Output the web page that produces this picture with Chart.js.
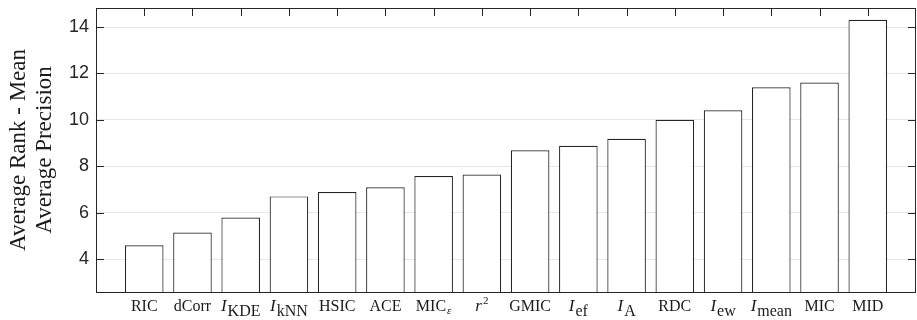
<!DOCTYPE html>
<html>
<head>
<meta charset="utf-8">
<script src="https://cdn.jsdelivr.net/npm/chart.js@4/dist/chart.umd.min.js"></script>
<style>
  html, body { margin: 0; padding: 0; background: #fff; }
  #wrap { width: 917px; height: 320px; }
</style>
</head>
<body>
<div id="wrap"><canvas id="rankChart"></canvas></div>
<script>
// methods, in plotted order ("_" = subscript, "^" = superscript)
const methods = ['RIC', 'dCorr', 'I_KDE', 'I_kNN', 'HSIC', 'ACE', 'MIC_ε', 'r^2',
                 'GMIC', 'I_ef', 'I_A', 'RDC', 'I_ew', 'I_mean', 'MIC', 'MID'];
const avgRank = [4.59, 5.14, 5.79, 6.70, 6.89, 7.09, 7.58, 7.64,
                 8.69, 8.88, 9.18, 10.00, 10.41, 11.40, 11.61, 14.31];
const yTicks = [4, 6, 8, 10, 12, 14];
const yTitle = ['Average Rank - Mean', 'Average Precision'];

const serif = '"Liberation Serif", serif';
const ink = '#262626';

function drawLabel(ctx, text, cx, baseY) {
    let base = text, sub = '', sup = '';
    if (text.includes('_')) [base, sub] = text.split('_');
    else if (text.includes('^')) [base, sup] = text.split('^');
    const baseFont = (base.length === 1 ? 'italic 17px ' : '16px ') + serif;
    const subFont = (sub === 'ε' ? 'italic 11px ' : '16px ') + serif;
    const supFont = '11px ' + serif;

    ctx.font = baseFont;
    const wb = ctx.measureText(base).width;
    let wx = 0;
    if (sub) { ctx.font = subFont; wx = ctx.measureText(sub).width + 1; }
    if (sup) { ctx.font = supFont; wx = ctx.measureText(sup).width + 1; }

    let sx = cx - (wb + wx) / 2;
    ctx.font = baseFont;
    ctx.fillText(base, sx, baseY);
    if (sub) {
        ctx.font = subFont;
        ctx.fillText(sub, sx + wb + 1, baseY + (sub === 'ε' ? 3 : 5));
    }
    if (sup) {
        ctx.font = supFont;
        ctx.fillText(sup, sx + wb + 1, baseY - 7);
    }
}

// box, inward ticks and the x labels
const frameAndLabels = {
    id: 'frameAndLabels',
    afterDraw(chart) {
        const ctx = chart.ctx;
        const area = chart.chartArea;
        const x = chart.scales.x, y = chart.scales.y;
        ctx.save();
        ctx.strokeStyle = ink;
        ctx.lineWidth = 1;
        ctx.beginPath();
        methods.forEach((m, i) => {
            const px = Math.round(x.getPixelForValue(i + 1)) + 0.5;
            ctx.moveTo(px, area.top);
            ctx.lineTo(px, area.top + 8);
        });
        yTicks.forEach(v => {
            const py = Math.round(y.getPixelForValue(v)) + 0.5;
            ctx.moveTo(area.left, py);
            ctx.lineTo(area.left + 8, py);
            ctx.moveTo(area.right, py);
            ctx.lineTo(area.right - 8, py);
        });
        ctx.stroke();
        ctx.strokeRect(Math.round(area.left) + 0.5, Math.round(area.top) + 0.5,
                       Math.round(area.right - area.left) - 1, Math.round(area.bottom - area.top));

        ctx.fillStyle = '#1a1a1a';
        ctx.textAlign = 'left';
        ctx.textBaseline = 'alphabetic';
        methods.forEach((m, i) => {
            drawLabel(ctx, m, x.getPixelForValue(i + 1), area.bottom + 19);
        });
        ctx.restore();
    }
};

new Chart(document.getElementById('rankChart'), {
    type: 'bar',
    data: {
        datasets: [{
            data: methods.map((m, i) => ({ x: i + 1, y: avgRank[i] })),
            backgroundColor: '#ffffff',
            borderColor: ink,
            borderWidth: 1.2,
            barPercentage: 1,
            categoryPercentage: 0.8
        }]
    },
    options: {
        responsive: true,
        maintainAspectRatio: false,
        animation: false,
        layout: { padding: { top: 8, right: 1 } },
        plugins: {
            legend: { display: false },
            tooltip: { enabled: false }
        },
        scales: {
            x: {
                type: 'linear',
                min: 0,
                max: 17,
                offset: false,
                ticks: { display: false },
                grid: { display: false },
                border: { display: false },
                afterFit(s) { s.height = 28; }
            },
            y: {
                min: 2.58,
                max: 14.82,
                afterBuildTicks(s) { s.ticks = yTicks.map(v => ({ value: v })); },
                ticks: {
                    padding: 7,
                    color: ink,
                    font: { family: '"Liberation Sans", Arial, sans-serif', size: 18 }
                },
                grid: { color: '#e6e6e6', drawTicks: false },
                border: { display: false },
                title: {
                    display: true,
                    text: yTitle,
                    color: '#1a1a1a',
                    font: { family: serif, size: 23, lineHeight: 1.12 },
                    padding: { top: 6, bottom: 0 }
                },
                afterFit(s) {
                    s.width = 96;
                    s.paddingTop = 0;
                    s.paddingBottom = 0;
                }
            }
        }
    },
    plugins: [frameAndLabels]
});
</script>
</body>
</html>
